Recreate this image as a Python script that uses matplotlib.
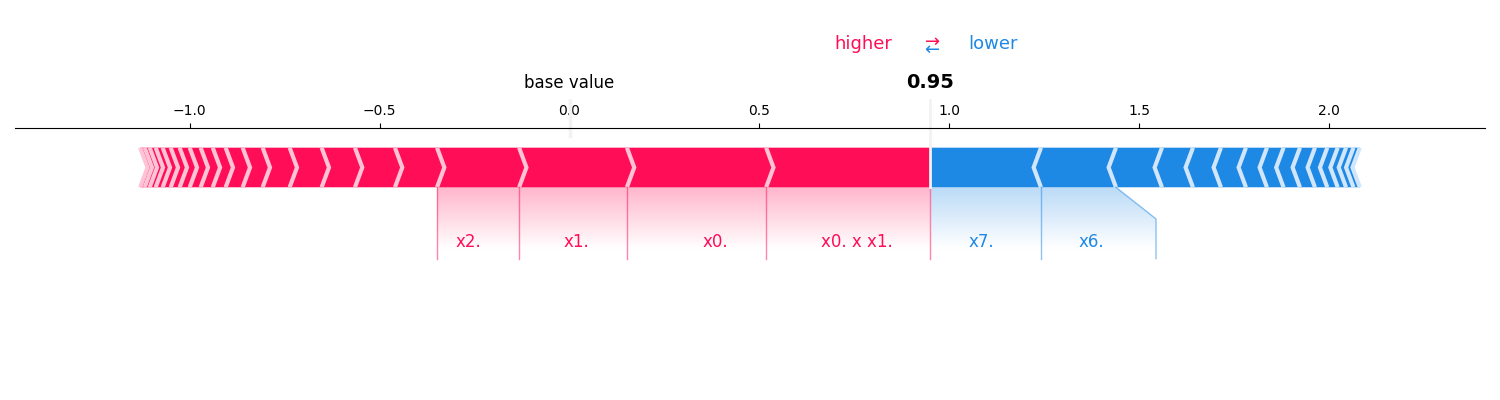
import numpy as np
import matplotlib
matplotlib.use("Agg")
import matplotlib.pyplot as plt
from matplotlib import lines
from matplotlib.path import Path
from matplotlib.patches import PathPatch, Polygon
from matplotlib.font_manager import FontProperties

# ---------------- data ----------------
base_value = 0.0
pos_names = ["x0. x x1.", "x0.", "x1.", "x2.", "x3.", "x4.", "x5.", "x8.", "x9.", "x10.",
             "x11.", "x12.", "x13.", "x14.", "x15.", "x16.", "x17.", "x18.", "x19.", "x20.", "x21."]
pos_effects = [0.4327, 0.3666, 0.2838, 0.2161, 0.1108, 0.1053, 0.0877, 0.0842, 0.0711, 0.0526,
               0.0448, 0.0340, 0.0318, 0.0289, 0.0264, 0.0236, 0.0211, 0.0184, 0.0158, 0.0132, 0.0118]
neg_names = ["x7.", "x6.", "x22.", "x23.", "x24.", "x25.", "x26.", "x27.", "x28.", "x29.",
             "x30.", "x31.", "x32.", "x33.", "x34."]
neg_effects = [-0.2909, -0.1974, -0.1211, -0.0816, -0.0737, -0.0658, -0.0553, -0.0437, -0.0432,
               -0.0395, -0.0325, -0.0274, -0.0220, -0.0194, -0.0168]
out_name = ""

RED, RED_L = "#FF0D57", "#FFC3D5"
BLUE, BLUE_L = "#1E88E5", "#D1E6FA"

# ---------------- derived ----------------
out_value = base_value + sum(pos_effects) + sum(neg_effects)
pos_bounds = out_value - np.cumsum(pos_effects)
neg_bounds = out_value - np.cumsum(neg_effects)
total_pos = pos_bounds.max() - pos_bounds.min()
total_neg = neg_bounds.max() - neg_bounds.min()
padding = max(total_pos, total_neg) * 0.2
min_x = min(pos_bounds.min(), base_value) - padding
max_x = max(neg_bounds.max(), base_value) + padding
offset_text = (total_neg + total_pos) * 0.04

fig = plt.figure(figsize=(15, 4), dpi=100)
ax = fig.add_axes([15 / 1500, 0.0368, 1470 / 1500, 0.6435])
ax.set_ylim(-0.5, 0.15)
ax.set_xlim(min_x, max_x)
ax.tick_params(top=True, bottom=False, left=False, right=False, labelleft=False,
               labeltop=True, labelbottom=False)
ax.locator_params(axis="x", nbins=12)
for key, sp in ax.spines.items():
    if key != "top":
        sp.set_visible(False)

width_bar = 0.1
width_sep = (max_x - min_x) / 200


def draw_bars(bounds, kind):
    rects, seps = [], []
    pre = out_value
    for i, b in enumerate(bounds):
        if kind == "pos":
            left, right = b, pre
            indent = abs(width_sep)
            sep_pos = left
            c0, c1 = RED, RED_L
        else:
            left, right = pre, b
            indent = -abs(width_sep)
            sep_pos = right
            c0, c1 = BLUE, BLUE_L
        pre = b
        if i == 0:
            if kind == "pos":
                pts = [[left, 0], [right, 0], [right, width_bar], [left, width_bar],
                       [left + indent, width_bar / 2]]
            else:
                pts = [[right, 0], [left, 0], [left, width_bar], [right, width_bar],
                       [right + indent, width_bar / 2]]
        else:
            pts = [[left, 0], [right, 0], [right + indent * 0.9, width_bar / 2],
                   [right, width_bar], [left, width_bar], [left + indent * 0.9, width_bar / 2]]
        rects.append(Polygon(pts, closed=True, fill=True, facecolor=c0, linewidth=0))
        seps.append(Polygon([[sep_pos, 0], [sep_pos + indent, width_bar / 2], [sep_pos, width_bar]],
                            closed=False, fill=False, edgecolor=c1, lw=3))
    for r in rects:
        ax.add_patch(r)
    for s in seps:
        ax.add_patch(s)


draw_bars(neg_bounds, "neg")
draw_bars(pos_bounds, "pos")

total_effect = total_neg + total_pos


def draw_labels(bounds, names, kind, min_perc=0.05):
    start_text = out_value
    pre_val = out_value
    if kind == "pos":
        col, align, sign = RED, "right", 1
        ln = lines.Line2D([pre_val, pre_val], [0, -0.18], lw=1.0, alpha=0.5, color=col)
        ln.set_clip_on(False)
        ax.add_line(ln)
    else:
        col, align, sign = BLUE, "left", -1
    box_end = out_value
    for b, name in zip(bounds, names):
        contrib = abs(b - pre_val) / abs(total_effect)
        if contrib < min_perc:
            break
        val = b
        t = ax.text(start_text - sign * offset_text, -0.15, name, fontsize=12, color=col,
                    ha=align, va="baseline")
        t.set_bbox(dict(facecolor="none", edgecolor="none", pad=10))
        fig.canvas.draw()
        bs = t.get_bbox_patch().get_extents().transformed(ax.transData.inverted())
        box_end_ = bs.get_points()[0][0] if kind == "pos" else bs.get_points()[1][0]
        if sign * box_end_ > sign * val:
            ln = lines.Line2D([val, val], [0, -0.18], lw=1.0, alpha=0.5, color=col)
            ln.set_clip_on(False)
            ax.add_line(ln)
            start_text = val
            box_end = val
        else:
            box_end = box_end_ - sign * offset_text
            ln = lines.Line2D([val, box_end, box_end], [0, -0.08, -0.18], lw=1.0, alpha=0.5, color=col)
            ln.set_clip_on(False)
            ax.add_line(ln)
            start_text = box_end
        pre_val = b

    path = Path([[out_value, 0], [pre_val, 0], [box_end, -0.08], [box_end, -0.2],
                 [out_value, -0.2], [out_value, 0]])
    patch = PathPatch(path, facecolor="none", edgecolor="none")
    ax.add_patch(patch)
    rgb = np.array([(255, 13, 87), (255, 255, 255)]) / 255.0 if kind == "pos" else \
        np.array([(30, 136, 229), (255, 255, 255)]) / 255.0
    cm = matplotlib.colors.LinearSegmentedColormap.from_list("cm", rgb)
    _, Z2 = np.meshgrid(np.linspace(0, 10), np.linspace(-10, 10))
    im = ax.imshow(Z2, interpolation="quadric", cmap=cm, vmax=0.01, alpha=0.3,
                   origin="lower", extent=[out_value, box_end, 0, -0.31], aspect="auto")
    im.set_clip_path(patch)


draw_labels(neg_bounds, neg_names, "neg")
draw_labels(pos_bounds, pos_names, "pos")

# higher / lower legend
ax.text(out_value - offset_text, 0.349, "higher", fontsize=13, color=RED, ha="right", clip_on=False)
ax.text(out_value + offset_text, 0.349, "lower", fontsize=13, color=BLUE, ha="left", clip_on=False)
ax.text(out_value, 0.336, r"$\leftarrow$", fontsize=13, color=BLUE, ha="center", clip_on=False)
ax.text(out_value, 0.358, r"$\rightarrow$", fontsize=13, color=RED, ha="center", clip_on=False)

# base value
ln = lines.Line2D([base_value, base_value], [0.13, 0.25], lw=2.5, color="#F2F2F2", zorder=2)
ln.set_clip_on(False)
ax.add_line(ln)
t = ax.text(base_value, 0.25, "base value", fontsize=12, ha="center", clip_on=False, zorder=4)
t.set_bbox(dict(facecolor="white", edgecolor="white"))

# output value
ln = lines.Line2D([out_value, out_value], [0, 0.24], lw=2.0, color="#F2F2F2", zorder=2)
ln.set_clip_on(False)
ax.add_line(ln)
font = FontProperties(weight="bold")
t = ax.text(out_value, 0.25, "{0:.2f}".format(out_value), fontproperties=font, fontsize=14,
            ha="center", clip_on=False, zorder=4)
t.set_bbox(dict(facecolor="white", edgecolor="white"))

ax.set_xlim(min_x, max_x)
ax.set_ylim(-0.5, 0.15)
fig.savefig("out.png", dpi=100)
